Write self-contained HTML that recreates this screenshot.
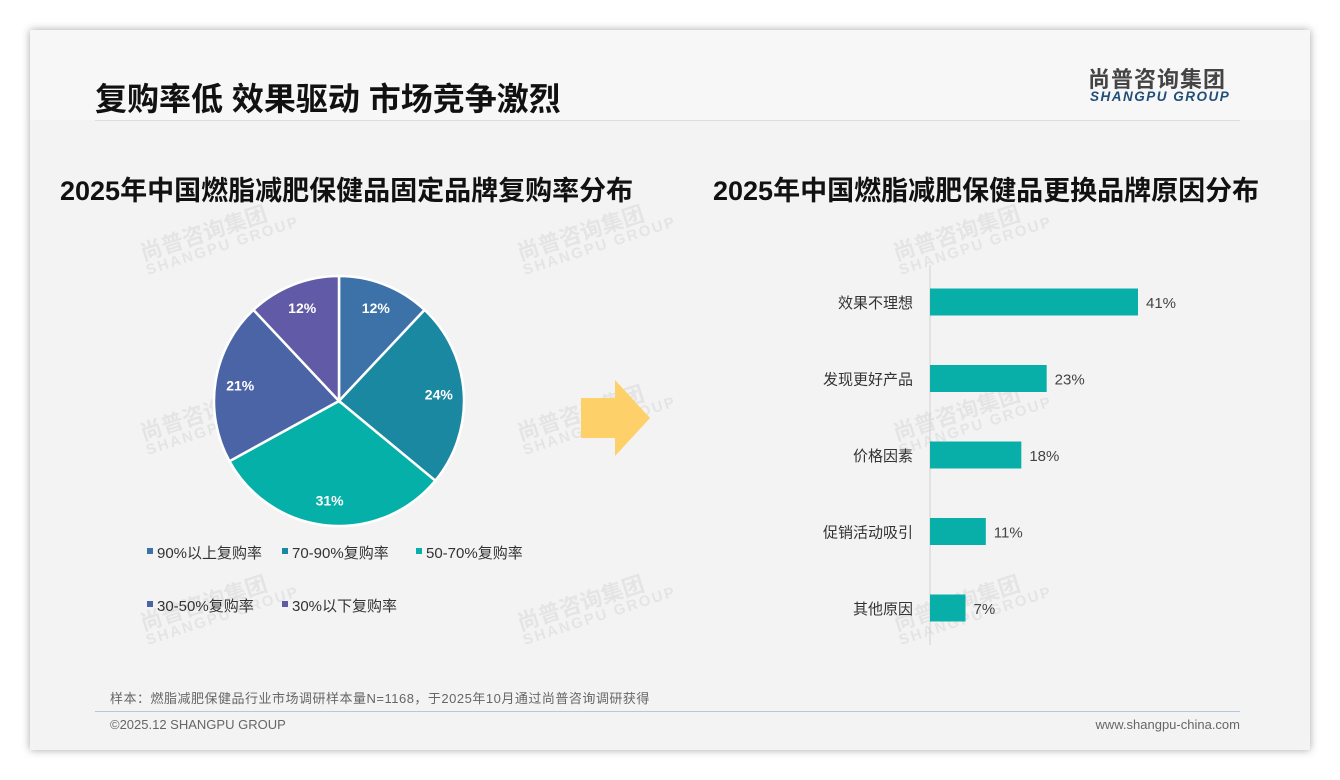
<!DOCTYPE html>
<html><head><meta charset="utf-8"><style>
body{margin:0;width:1340px;height:780px;background:#fff;font-family:"Liberation Sans","Noto Sans CJK SC",sans-serif;position:relative;overflow:hidden}
.card{position:absolute;left:30px;top:30px;width:1280px;height:720px;background:#f3f3f3;box-shadow:0 0 8px rgba(0,0,0,.35)}
.abs{position:absolute}
.wm{position:absolute;color:rgba(0,0,0,.06);font-weight:bold;transform:rotate(-18deg);font-size:22px;line-height:18px}
.wm small{display:block;font-size:15px;letter-spacing:2px}
</style></head><body>
<div class="card">
 <div class="abs" style="left:0;top:0;width:1280px;height:90px;background:#f7f7f7"></div>
 <div class="abs" style="left:65px;top:44px;font-size:32px;font-weight:bold;color:#111">复购率低 效果驱动 市场竞争激烈</div>
 <div class="abs" style="left:1058px;top:32px;font-size:22px;font-weight:bold;color:#444;letter-spacing:1px">尚普咨询集团</div>
 <div class="abs" style="left:1060px;top:59px;font-size:13.5px;font-weight:bold;font-style:italic;color:#1f4e79;letter-spacing:1.5px">SHANGPU GROUP</div>
 <div class="abs" style="left:65px;top:90px;width:1145px;height:1px;background:#ddd"></div>
 <div class="abs" style="left:30px;top:139px;font-size:27px;font-weight:bold;color:#111">2025年中国燃脂减肥保健品固定品牌复购率分布</div>
 <div class="abs" style="left:683px;top:139px;font-size:27px;font-weight:bold;color:#111">2025年中国燃脂减肥保健品更换品牌原因分布</div>
 <div class="wm" style="left:110px;top:190px">尚普咨询集团<small>SHANGPU GROUP</small></div>
 <div class="wm" style="left:487px;top:190px">尚普咨询集团<small>SHANGPU GROUP</small></div>
 <div class="wm" style="left:863px;top:190px">尚普咨询集团<small>SHANGPU GROUP</small></div>
 <div class="wm" style="left:110px;top:370px">尚普咨询集团<small>SHANGPU GROUP</small></div>
 <div class="wm" style="left:487px;top:370px">尚普咨询集团<small>SHANGPU GROUP</small></div>
 <div class="wm" style="left:863px;top:370px">尚普咨询集团<small>SHANGPU GROUP</small></div>
 <div class="wm" style="left:110px;top:560px">尚普咨询集团<small>SHANGPU GROUP</small></div>
 <div class="wm" style="left:487px;top:560px">尚普咨询集团<small>SHANGPU GROUP</small></div>
 <div class="wm" style="left:863px;top:560px">尚普咨询集团<small>SHANGPU GROUP</small></div>
 <div class="abs" style="left:80px;top:658px;font-size:13px;letter-spacing:0.5px;color:#666">样本：燃脂减肥保健品行业市场调研样本量N=1168，于2025年10月通过尚普咨询调研获得</div>
 <div class="abs" style="left:65px;top:681px;width:1145px;height:1px;background:#b4c8e0"></div>
 <div class="abs" style="left:80px;top:687px;font-size:13px;color:#666">©2025.12 SHANGPU GROUP</div>
 <div class="abs" style="right:70px;top:687px;font-size:13px;color:#666">www.shangpu-china.com</div>
</div>
<svg id="chart" class="abs" style="left:0;top:0" width="1340" height="780">
 <polygon points="581,398 615,398 615,380 650,418 615,456 615,438 581,438" fill="#fdd06a"/>
</svg>
<script>
const pieLabels=["90%以上复购率","70-90%复购率","50-70%复购率","30-50%复购率","30%以下复购率"];
const pieValues=[12,24,31,21,12];
const pieColors=["#3d72a8","#1a88a0","#05b0a8","#4a64a6","#615aa6"];
const barCats=["效果不理想","发现更好产品","价格因素","促销活动吸引","其他原因"];
const barValues=[41,23,18,11,7];
const NS="http://www.w3.org/2000/svg";
const svg=document.getElementById('chart');
function mk(t,a){const e=document.createElementNS(NS,t);for(const k in a)e.setAttribute(k,a[k]);svg.appendChild(e);return e;}
const cx=339,cy=401,R=125;
const tot=pieValues.reduce((a,b)=>a+b,0);
let ang=-Math.PI/2;
pieValues.forEach((v,i)=>{
 const a0=ang,a1=ang+v/tot*2*Math.PI;ang=a1;
 const x0=cx+R*Math.cos(a0),y0=cy+R*Math.sin(a0),x1=cx+R*Math.cos(a1),y1=cy+R*Math.sin(a1);
 const p=mk('path',{d:`M${cx},${cy}L${x0},${y0}A${R},${R} 0 ${a1-a0>Math.PI?1:0} 1 ${x1},${y1}Z`,fill:pieColors[i],stroke:'#fff','stroke-width':2.5});
 
 
 const am=(a0+a1)/2,lr=R*0.8;
 const t=mk('text',{x:cx+lr*Math.cos(am),y:cy+lr*Math.sin(am)+5,'text-anchor':'middle',fill:'#fff','font-size':14,'font-weight':'bold'});
 t.textContent=v+'%';
 
 
});
const legPos=[[147,553],[282,553],[416,553],[147,606],[282,606]];
pieLabels.forEach((l,i)=>{
 const r=mk('rect',{x:legPos[i][0],y:legPos[i][1]-5,width:6,height:6,fill:pieColors[i]});
 
 
 const t=mk('text',{x:legPos[i][0]+10,y:legPos[i][1]+5,fill:'#333','font-size':15});
 t.textContent=l;
 
 
});
const ax=930,scale=208/41,y0b=302,step=76.5,bh=27;
const axl=mk('line',{x1:ax,y1:265,x2:ax,y2:645,stroke:'#d0d0d0'});


barCats.forEach((c,i)=>{
 const y=y0b+i*step;
 const r=mk('rect',{x:ax,y:y-bh/2,width:barValues[i]*scale,height:bh,fill:'#08afa8'});
 
 
 const t=mk('text',{x:ax-17,y:y+6,'text-anchor':'end',fill:'#333','font-size':15});
 t.textContent=c;
 
 
 const v=mk('text',{x:ax+barValues[i]*scale+8,y:y+6,fill:'#444','font-size':15});
 v.textContent=barValues[i]+'%';
 
 
});
</script>
</body></html>
